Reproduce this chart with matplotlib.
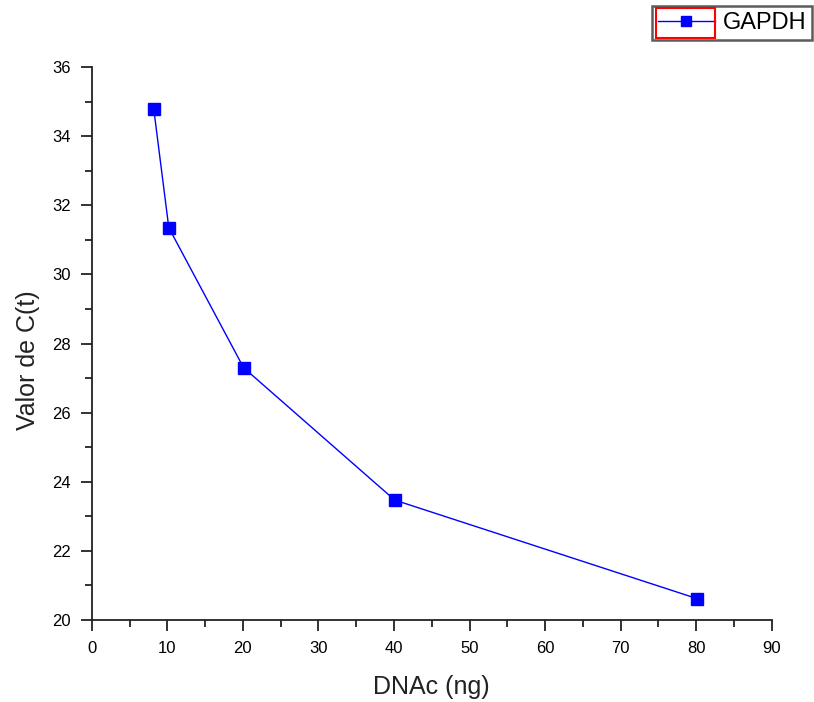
import matplotlib
matplotlib.use("Agg")
import matplotlib.pyplot as plt
from matplotlib.patches import Rectangle
from matplotlib.ticker import MultipleLocator

plt.rcParams['font.family'] = ['Liberation Sans', 'DejaVu Sans']

dna_ng = [8.2, 10.2, 20.1, 40.1, 80.1]
ct_values = [34.8, 31.35, 27.3, 23.47, 20.62]
series_name = "GAPDH"
x_label = "DNAc (ng)"
y_label = "Valor de C(t)"

fig = plt.figure(figsize=(8.14, 7.02), dpi=100)
ax = fig.add_axes([0.1127, 0.1168, 0.8354, 0.7877])
ax.plot(dna_ng, ct_values, color='#0000FF', lw=1.0, marker='s', ms=9,
        mfc='#0000FF', mec='#0000FF', label=series_name)
ax.set_xlim(0, 90)
ax.set_ylim(20, 36)
ax.xaxis.set_major_locator(MultipleLocator(10))
ax.xaxis.set_minor_locator(MultipleLocator(5))
ax.yaxis.set_major_locator(MultipleLocator(2))
ax.yaxis.set_minor_locator(MultipleLocator(1))
for s in ['top', 'right']:
    ax.spines[s].set_visible(False)
for s in ['left', 'bottom']:
    ax.spines[s].set_linewidth(1.3)
    ax.spines[s].set_color('#222222')
ax.tick_params(which='major', direction='out', length=8, width=1.3, labelsize=12, pad=7, color='#222222')
ax.tick_params(which='minor', direction='out', length=5, width=1.3, color='#222222')
ax.set_xlabel(x_label, fontsize=18, labelpad=14, color='#222222')
ax.set_ylabel(y_label, fontsize=18, labelpad=9, color='#222222')
ax.yaxis.label.set_y(0.47)

leg = fig.legend(loc='upper right', bbox_to_anchor=(812/814, 1 - 6/702), borderaxespad=0,
                 fontsize=17, handlelength=2.45, frameon=True, fancybox=False,
                 edgecolor='#333333', borderpad=0.25, handletextpad=0.3, markerscale=0.8)
leg.get_frame().set_linewidth(1.8)
fig.add_artist(Rectangle((656/814, 1 - 38/702), 59/814, 30/702, transform=fig.transFigure,
                         fill=False, edgecolor='red', lw=1.5, zorder=10))

fig.savefig('out.png', dpi=100)
